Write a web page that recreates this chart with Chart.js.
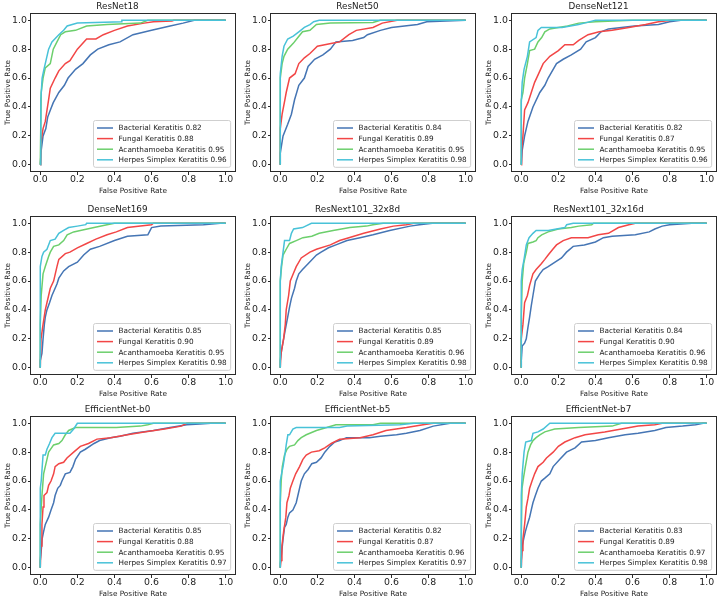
<!DOCTYPE html>
<html>
<head>
<meta charset="utf-8">
<script src="https://cdn.jsdelivr.net/npm/chart.js@4.4.0/dist/chart.umd.min.js"></script>
<style>
  html, body { margin: 0; padding: 0; background: #fff; }
  #fig { position: relative; width: 718px; height: 599px; overflow: hidden; }
  #fig canvas { position: absolute; }
</style>
</head>
<body>
<div id="fig"></div>
<script>
// panel titles, in reading order
const models = ['ResNet18', 'ResNet50', 'DenseNet121', 'DenseNet169', 'ResNext101_32x8d',
  'ResNext101_32x16d', 'EfficientNet-b0', 'EfficientNet-b5', 'EfficientNet-b7'];
const classNames = ['Bacterial Keratitis', 'Fungal Keratitis', 'Acanthamoeba Keratitis', 'Herpes Simplex Keratitis'];
const classColors = ['#4575b4', '#f24646', '#6ccf6c', '#48c2d8'];
const tickValues = [0, 0.2, 0.4, 0.6, 0.8, 1.0];

// AUC per model (bacterial, fungal, acanthamoeba, herpes)
const aucs = [
  [0.82, 0.88, 0.95, 0.96],
  [0.84, 0.89, 0.95, 0.98],
  [0.82, 0.87, 0.95, 0.96],
  [0.85, 0.90, 0.95, 0.98],
  [0.85, 0.89, 0.96, 0.98],
  [0.84, 0.90, 0.96, 0.98],
  [0.85, 0.88, 0.95, 0.97],
  [0.82, 0.87, 0.96, 0.97],
  [0.83, 0.89, 0.97, 0.98]
];

// ROC curves as [fpr, tpr] points
const rocResNet18 = [
  [[0,0],[0.005,0.1],[0.015,0.2],[0.03,0.25],[0.04,0.33],[0.055,0.38],[0.07,0.43],[0.1,0.5],[0.13,0.55],[0.15,0.6],[0.19,0.66],[0.23,0.7],[0.27,0.76],[0.31,0.8],[0.37,0.83],[0.43,0.85],[0.5,0.9],[0.6,0.93],[0.7,0.96],[0.77,0.98],[0.83,1],[1,1]],
  [[0,0],[0.003,0.15],[0.015,0.25],[0.027,0.3],[0.045,0.45],[0.054,0.53],[0.08,0.6],[0.1,0.65],[0.135,0.7],[0.16,0.72],[0.2,0.8],[0.25,0.87],[0.3,0.87],[0.34,0.9],[0.4,0.93],[0.47,0.96],[0.56,0.98],[0.61,0.99],[0.71,0.995],[0.72,1],[1,1]],
  [[0,0],[0.005,0.5],[0.015,0.6],[0.027,0.67],[0.054,0.7],[0.07,0.8],[0.09,0.85],[0.11,0.9],[0.135,0.92],[0.19,0.93],[0.25,0.96],[0.36,0.97],[0.54,0.98],[0.58,1],[1,1]],
  [[0,0],[0.003,0.45],[0.01,0.6],[0.018,0.65],[0.036,0.75],[0.045,0.8],[0.063,0.85],[0.1,0.9],[0.126,0.93],[0.145,0.96],[0.2,0.98],[0.44,0.99],[0.44,1],[1,1]]
];
const rocResNet50 = [
  [[0,0],[0,0.08],[0.005,0.12],[0.015,0.2],[0.04,0.28],[0.06,0.35],[0.077,0.45],[0.1,0.55],[0.13,0.6],[0.15,0.68],[0.185,0.73],[0.23,0.76],[0.27,0.8],[0.3,0.85],[0.39,0.86],[0.45,0.88],[0.47,0.9],[0.54,0.93],[0.6,0.95],[0.74,0.97],[0.79,0.99],[1,1]],
  [[0,0],[0,0.25],[0.01,0.35],[0.025,0.45],[0.032,0.5],[0.05,0.6],[0.08,0.63],[0.1,0.7],[0.13,0.74],[0.16,0.77],[0.2,0.82],[0.28,0.84],[0.32,0.85],[0.37,0.9],[0.41,0.93],[0.5,0.95],[0.55,0.98],[0.63,1],[1,1]],
  [[0,0],[0,0.6],[0.01,0.7],[0.02,0.75],[0.04,0.8],[0.07,0.84],[0.095,0.88],[0.12,0.92],[0.16,0.93],[0.195,0.97],[0.27,0.98],[0.5,0.985],[0.54,1],[1,1]],
  [[0,0],[0,0.63],[0.01,0.75],[0.02,0.82],[0.04,0.87],[0.07,0.89],[0.1,0.92],[0.13,0.95],[0.16,0.97],[0.18,0.99],[0.21,1],[1,1]]
];
const rocDenseNet121 = [
  [[0,0],[0.005,0.1],[0.018,0.2],[0.036,0.3],[0.063,0.4],[0.1,0.5],[0.127,0.55],[0.145,0.6],[0.19,0.7],[0.226,0.73],[0.27,0.76],[0.32,0.8],[0.35,0.85],[0.4,0.88],[0.43,0.92],[0.47,0.94],[0.54,0.95],[0.61,0.96],[0.74,0.97],[0.8,0.99],[0.86,1],[1,1]],
  [[0,0],[0.002,0.1],[0.009,0.2],[0.018,0.38],[0.036,0.43],[0.054,0.5],[0.072,0.57],[0.09,0.62],[0.118,0.7],[0.154,0.75],[0.2,0.79],[0.235,0.83],[0.28,0.83],[0.31,0.86],[0.36,0.9],[0.42,0.92],[0.49,0.93],[0.58,0.95],[0.67,0.97],[0.74,0.99],[0.81,1],[1,1]],
  [[0,0],[0,0.45],[0.009,0.5],[0.018,0.6],[0.033,0.7],[0.045,0.79],[0.072,0.8],[0.09,0.85],[0.11,0.88],[0.127,0.92],[0.154,0.94],[0.2,0.95],[0.25,0.96],[0.31,0.98],[0.4,0.99],[0.6,1],[1,1]],
  [[0,0],[0,0.43],[0.005,0.57],[0.015,0.66],[0.033,0.75],[0.045,0.85],[0.08,0.88],[0.09,0.93],[0.108,0.95],[0.22,0.95],[0.31,0.97],[0.34,0.98],[0.4,1],[1,1]]
];
const rocDenseNet169 = [
  [[0,0],[0,0.05],[0.009,0.1],[0.015,0.2],[0.022,0.3],[0.027,0.35],[0.036,0.4],[0.05,0.45],[0.063,0.5],[0.09,0.58],[0.1,0.62],[0.126,0.67],[0.153,0.7],[0.2,0.73],[0.234,0.78],[0.27,0.82],[0.32,0.84],[0.4,0.88],[0.47,0.91],[0.58,0.92],[0.6,0.97],[0.65,0.98],[0.88,0.99],[0.97,1],[1,1]],
  [[0,0],[0.004,0.2],[0.015,0.3],[0.027,0.4],[0.045,0.5],[0.054,0.55],[0.072,0.6],[0.09,0.7],[0.1,0.75],[0.135,0.79],[0.16,0.8],[0.2,0.83],[0.25,0.86],[0.3,0.89],[0.36,0.92],[0.41,0.94],[0.47,0.97],[0.54,0.98],[0.6,0.99],[0.61,1],[1,1]],
  [[0,0],[0,0.3],[0.005,0.5],[0.015,0.65],[0.027,0.7],[0.045,0.77],[0.054,0.8],[0.072,0.84],[0.1,0.85],[0.126,0.88],[0.145,0.92],[0.18,0.94],[0.216,0.95],[0.29,0.97],[0.36,0.99],[0.4,1],[1,1]],
  [[0,0],[0,0.7],[0.009,0.77],[0.018,0.8],[0.036,0.82],[0.054,0.88],[0.08,0.89],[0.1,0.93],[0.126,0.95],[0.153,0.97],[0.2,0.98],[0.245,0.99],[0.25,1],[1,1]]
];
const rocResNext8d = [
  [[0,0],[0,0.05],[0.007,0.12],[0.018,0.2],[0.025,0.25],[0.04,0.35],[0.05,0.42],[0.06,0.48],[0.077,0.55],[0.086,0.6],[0.1,0.65],[0.12,0.68],[0.15,0.72],[0.195,0.78],[0.22,0.8],[0.26,0.83],[0.3,0.85],[0.36,0.88],[0.43,0.9],[0.5,0.92],[0.59,0.95],[0.7,0.98],[0.75,0.99],[0.82,1],[1,1]],
  [[0,0],[0.004,0.1],[0.018,0.2],[0.027,0.3],[0.032,0.4],[0.045,0.5],[0.054,0.6],[0.07,0.65],[0.086,0.7],[0.113,0.76],[0.16,0.8],[0.195,0.82],[0.27,0.85],[0.32,0.88],[0.37,0.9],[0.45,0.93],[0.54,0.96],[0.61,0.98],[0.68,0.99],[0.72,1],[1,1]],
  [[0,0],[0,0.6],[0.007,0.7],[0.015,0.78],[0.032,0.82],[0.05,0.86],[0.086,0.88],[0.122,0.9],[0.17,0.91],[0.21,0.93],[0.285,0.95],[0.375,0.97],[0.465,0.98],[0.5,0.99],[0.555,1],[1,1]],
  [[0,0],[0,0.6],[0.005,0.7],[0.015,0.8],[0.023,0.88],[0.05,0.88],[0.06,0.93],[0.072,0.96],[0.12,0.97],[0.168,1],[1,1]]
];
const rocResNext16d = [
  [[0,0],[0,0.05],[0.005,0.15],[0.018,0.17],[0.027,0.2],[0.036,0.28],[0.045,0.35],[0.054,0.43],[0.063,0.5],[0.076,0.6],[0.1,0.65],[0.118,0.68],[0.145,0.7],[0.18,0.73],[0.217,0.76],[0.244,0.8],[0.28,0.84],[0.34,0.85],[0.4,0.87],[0.443,0.9],[0.49,0.91],[0.615,0.92],[0.69,0.94],[0.72,0.96],[0.76,0.98],[0.8,0.99],[0.92,1],[1,1]],
  [[0,0],[0,0.2],[0.009,0.3],[0.018,0.45],[0.033,0.5],[0.045,0.57],[0.063,0.65],[0.08,0.68],[0.108,0.72],[0.127,0.75],[0.145,0.78],[0.17,0.82],[0.19,0.85],[0.226,0.88],[0.27,0.9],[0.36,0.9],[0.415,0.92],[0.47,0.93],[0.524,0.97],[0.58,0.99],[0.615,1],[1,1]],
  [[0,0],[0,0.35],[0.005,0.6],[0.013,0.72],[0.018,0.75],[0.027,0.8],[0.036,0.86],[0.063,0.87],[0.08,0.88],[0.09,0.9],[0.11,0.92],[0.145,0.94],[0.2,0.96],[0.27,0.97],[0.31,0.98],[0.38,0.99],[0.39,1],[1,1]],
  [[0,0],[0,0.6],[0.005,0.68],[0.015,0.75],[0.027,0.85],[0.042,0.9],[0.063,0.93],[0.08,0.95],[0.145,0.95],[0.235,0.97],[0.245,0.99],[0.28,1],[1,1]]
];
const rocEffB0 = [
  [[0,0],[0,0.05],[0.004,0.1],[0.01,0.2],[0.018,0.25],[0.027,0.3],[0.045,0.35],[0.058,0.4],[0.072,0.45],[0.08,0.5],[0.094,0.55],[0.108,0.57],[0.117,0.6],[0.135,0.65],[0.16,0.66],[0.176,0.7],[0.19,0.75],[0.216,0.8],[0.243,0.82],[0.29,0.86],[0.32,0.88],[0.38,0.9],[0.43,0.91],[0.5,0.93],[0.61,0.95],[0.7,0.97],[0.79,0.99],[0.86,0.995],[0.92,1],[1,1]],
  [[0,0],[0.004,0.15],[0.009,0.3],[0.015,0.42],[0.02,0.5],[0.036,0.52],[0.045,0.57],[0.058,0.6],[0.072,0.65],[0.08,0.7],[0.1,0.72],[0.126,0.73],[0.144,0.76],[0.18,0.8],[0.216,0.84],[0.26,0.86],[0.306,0.89],[0.38,0.9],[0.47,0.92],[0.56,0.94],[0.67,0.96],[0.76,0.98],[0.79,1],[1,1]],
  [[0,0],[0,0.3],[0.009,0.5],[0.018,0.65],[0.036,0.75],[0.045,0.8],[0.072,0.85],[0.1,0.86],[0.117,0.88],[0.135,0.92],[0.153,0.95],[0.19,0.97],[0.41,0.97],[0.54,0.98],[0.58,0.99],[0.61,1],[1,1]],
  [[0,0],[0,0.55],[0.005,0.6],[0.015,0.78],[0.027,0.78],[0.036,0.82],[0.05,0.86],[0.063,0.9],[0.08,0.93],[0.16,0.93],[0.18,0.96],[0.2,1],[1,1]]
];
const rocEffB5 = [
  [[0,0],[0,0.03],[0.007,0.1],[0.015,0.2],[0.023,0.28],[0.032,0.3],[0.041,0.35],[0.05,0.38],[0.068,0.4],[0.086,0.45],[0.095,0.5],[0.104,0.55],[0.113,0.6],[0.13,0.65],[0.15,0.68],[0.17,0.72],[0.195,0.73],[0.22,0.76],[0.24,0.8],[0.267,0.84],[0.294,0.87],[0.32,0.88],[0.357,0.9],[0.48,0.9],[0.54,0.91],[0.627,0.92],[0.68,0.93],[0.753,0.95],[0.825,0.98],[0.915,1],[1,1]],
  [[0,0],[0.004,0.05],[0.009,0.15],[0.018,0.25],[0.03,0.35],[0.036,0.45],[0.047,0.5],[0.054,0.55],[0.068,0.6],[0.083,0.65],[0.104,0.7],[0.122,0.75],[0.14,0.78],[0.168,0.8],[0.21,0.81],[0.24,0.83],[0.275,0.86],[0.32,0.89],[0.43,0.9],[0.5,0.92],[0.57,0.95],[0.68,0.97],[0.77,0.99],[0.825,1],[1,1]],
  [[0,0],[0,0.45],[0.005,0.6],[0.011,0.7],[0.023,0.78],[0.036,0.82],[0.05,0.84],[0.077,0.85],[0.095,0.88],[0.113,0.9],[0.14,0.92],[0.195,0.95],[0.25,0.97],[0.3,0.99],[0.5,0.99],[0.54,1],[1,1]],
  [[0,0],[0,0.6],[0.007,0.65],[0.015,0.7],[0.027,0.8],[0.032,0.85],[0.041,0.92],[0.05,0.92],[0.068,0.96],[0.086,0.97],[0.32,0.97],[0.36,0.98],[0.645,0.99],[0.72,1],[1,1]]
];
const rocEffB7 = [
  [[0,0],[0,0.05],[0.005,0.15],[0.013,0.2],[0.022,0.25],[0.033,0.3],[0.045,0.35],[0.054,0.4],[0.063,0.45],[0.076,0.5],[0.09,0.55],[0.108,0.6],[0.127,0.62],[0.154,0.65],[0.172,0.7],[0.208,0.75],[0.244,0.8],[0.29,0.83],[0.325,0.87],[0.4,0.88],[0.47,0.9],[0.56,0.92],[0.63,0.93],[0.72,0.95],[0.78,0.97],[0.87,0.98],[0.94,0.99],[0.98,1],[1,1]],
  [[0,0],[0.004,0.12],[0.009,0.2],[0.018,0.3],[0.027,0.42],[0.036,0.48],[0.045,0.55],[0.058,0.6],[0.072,0.65],[0.09,0.7],[0.118,0.73],[0.136,0.76],[0.172,0.8],[0.2,0.84],[0.235,0.87],[0.29,0.9],[0.344,0.92],[0.45,0.94],[0.54,0.96],[0.63,0.98],[0.72,0.99],[0.76,1],[1,1]],
  [[0,0],[0,0.2],[0.004,0.55],[0.013,0.63],[0.022,0.7],[0.036,0.8],[0.05,0.85],[0.063,0.88],[0.08,0.9],[0.1,0.92],[0.127,0.94],[0.18,0.96],[0.31,0.97],[0.49,0.98],[0.54,1],[1,1]],
  [[0,0],[0,0.5],[0.005,0.65],[0.015,0.8],[0.024,0.87],[0.054,0.88],[0.063,0.93],[0.09,0.94],[0.118,0.96],[0.154,1],[1,1]]
];
const curves = [rocResNet18, rocResNet50, rocDenseNet121, rocDenseNet169, rocResNext8d,
  rocResNext16d, rocEffB0, rocEffB5, rocEffB7];

// grid layout (axes frames in page pixels)
const colLeft = [31, 271, 512];
const rowTop = [13, 216, 416];
const frameW = 204, frameH = 159;
const padL = 31, padT = 14, padB = 26, padR = 3;
const FONT = 'DejaVu Sans';
const textColor = '#222222';

// frame + legend box in lower right, like matplotlib
const frameAndLegend = {
  id: 'frameAndLegend',
  afterDatasetsDraw(chart) {
    const ctx = chart.ctx;
    const a = chart.chartArea;
    ctx.save();
    ctx.strokeStyle = '#2a2a2a';
    ctx.lineWidth = 1;
    ctx.strokeRect(Math.round(a.left) - 0.5, Math.round(a.top) + 0.5,
      Math.round(a.right - a.left) + 1, Math.round(a.bottom - a.top) - 1);

    const fs = 7.3;
    ctx.font = fs + 'px "' + FONT + '"';
    const labels = chart.data.datasets.map(d => d.label);
    const textW = Math.max(...labels.map(l => ctx.measureText(l).width));
    const rowGap = 10.6;
    const boxW = 3.5 + 16 + 5.5 + textW + 4;
    const boxH = 7.5 * 2 + rowGap * (labels.length - 1);
    const bx = Math.round(a.right - 5 - boxW) + 0.5;
    const by = Math.round(a.bottom - 5 - boxH) + 0.5;
    ctx.fillStyle = 'rgba(255,255,255,0.85)';
    ctx.strokeStyle = '#cfcfcf';
    ctx.beginPath();
    ctx.roundRect(bx, by, boxW, boxH, 2);
    ctx.fill();
    ctx.stroke();
    ctx.textBaseline = 'middle';
    ctx.textAlign = 'left';
    chart.data.datasets.forEach((d, i) => {
      const y = by + 7.5 + i * rowGap;
      ctx.strokeStyle = d.borderColor;
      ctx.lineWidth = 1.5;
      ctx.beginPath();
      ctx.moveTo(bx + 3.5, y);
      ctx.lineTo(bx + 19.5, y);
      ctx.stroke();
      ctx.fillStyle = textColor;
      ctx.fillText(d.label, bx + 25, y + 0.5);
    });
    ctx.restore();
  }
};

const fig = document.getElementById('fig');

models.forEach((name, k) => {
  const r = Math.floor(k / 3), c = k % 3;
  const canvas = document.createElement('canvas');
  canvas.width = padL + frameW + padR;
  canvas.height = padT + frameH + padB;
  canvas.style.left = (colLeft[c] - padL) + 'px';
  canvas.style.top = (rowTop[r] - padT) + 'px';
  fig.appendChild(canvas);

  const datasets = curves[k].map((pts, i) => ({
    label: classNames[i] + ' ' + aucs[k][i].toFixed(2),
    data: pts.map(p => ({ x: p[0], y: p[1] })),
    showLine: true,
    borderColor: classColors[i],
    borderWidth: 1.5,
    pointRadius: 0,
    tension: 0,
    order: 3 - i
  }));

  const tickOpts = {
    color: textColor,
    font: { family: FONT, size: 9.4, lineHeight: 1 },
    callback: v => Number(v).toFixed(1)
  };
  const gridOpts = { display: true, drawOnChartArea: false, drawTicks: true, tickLength: 3, color: '#2a2a2a' };

  new Chart(canvas, {
    type: 'scatter',
    data: { datasets },
    options: {
      responsive: false,
      animation: false,
      layout: { padding: { left: 0, right: padR, top: 0, bottom: 0 } },
      plugins: {
        legend: { display: false },
        tooltip: { enabled: false },
        title: {
          display: true,
          text: name,
          color: textColor,
          font: { family: FONT, size: 8.8, weight: 'normal', lineHeight: '10px' },
          padding: { top: 3, bottom: 1 }
        }
      },
      scales: {
        x: {
          type: 'linear', min: -0.05, max: 1.05,
          afterBuildTicks: s => { s.ticks = tickValues.map(v => ({ value: v })); },
          afterFit: s => { s.height = padB; },
          ticks: Object.assign({ padding: 0, maxRotation: 0 }, tickOpts),
          grid: gridOpts,
          border: { display: false },
          title: {
            display: true, text: 'False Positive Rate', color: textColor,
            font: { family: FONT, size: 7.3, lineHeight: '9px' },
            padding: { top: 0, bottom: 2.3 }
          }
        },
        y: {
          type: 'linear', min: -0.05, max: 1.05,
          afterBuildTicks: s => { s.ticks = tickValues.map(v => ({ value: v })); },
          afterFit: s => { s.width = padL; },
          ticks: Object.assign({ padding: 1 }, tickOpts),
          grid: gridOpts,
          border: { display: false },
          title: {
            display: true, text: 'True Positive Rate', color: textColor,
            font: { family: FONT, size: 7.3, lineHeight: '9px' },
            padding: { top: 3.8, bottom: 0 }
          }
        }
      }
    },
    plugins: [frameAndLegend]
  });
});
</script>
</body>
</html>
